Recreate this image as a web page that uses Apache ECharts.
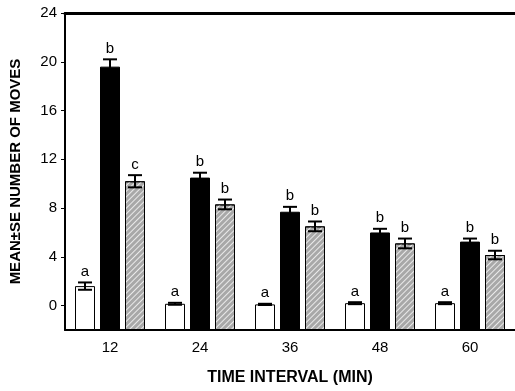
<!DOCTYPE html>
<html>
<head>
<meta charset="utf-8">
<script src="https://cdn.jsdelivr.net/npm/echarts@6/dist/echarts.min.js"></script>
<style>
  html, body { margin: 0; padding: 0; background: #fff; }
  #chart { width: 515px; height: 391px; }
</style>
</head>
<body>
<div id="chart"></div>
<script>
// time intervals (min)
const categories = ["12", "24", "36", "48", "60"];
const yTicks = [0, 4, 8, 12, 16, 20, 24];

// white bars
const openMean = [1.6, 0.15, 0.1, 0.2, 0.2];
const openSE = [0.3, 0.08, 0.05, 0.08, 0.08];
const openLetters = ["a", "a", "a", "a", "a"];

// black bars
const solidMean = [19.6, 10.5, 7.7, 6.0, 5.25];
const solidSE = [0.6, 0.4, 0.4, 0.3, 0.25];
const solidLetters = ["b", "b", "b", "b", "b"];

// hatched bars
const hatchMean = [10.2, 8.3, 6.5, 5.1, 4.15];
const hatchSE = [0.5, 0.4, 0.4, 0.4, 0.35];
const hatchLetters = ["c", "b", "b", "b", "b"];

const BAR_W = 20;
const STEP = 25; // bar width + gap

const chart = echarts.init(document.getElementById("chart"));

const errSeries = (mean, se, letters, idx) => ({
  type: "custom",
  z: 5,
  data: mean.map((m, i) => [i, m, se[i], letters[i]]),
  renderItem: (params, api) => {
    const i = api.value(0);
    const m = api.value(1);
    const s = api.value(2);
    const off = (idx - 1) * STEP;
    const top = api.coord([i, m + s]);
    const bot = api.coord([i, m - s]);
    const x = top[0] + off;
    const cap = 7;
    const st = { stroke: "#000", lineWidth: 2 };
    return {
      type: "group",
      children: [
        { type: "line", shape: { x1: x, y1: top[1], x2: x, y2: bot[1] }, style: st },
        { type: "line", shape: { x1: x - cap, y1: top[1], x2: x + cap, y2: top[1] }, style: st },
        { type: "line", shape: { x1: x - cap, y1: bot[1], x2: x + cap, y2: bot[1] }, style: st },
        {
          type: "text",
          style: {
            text: api.value(3),
            x: x,
            y: top[1] - 3,
            align: "center",
            verticalAlign: "bottom",
            font: "15px 'Liberation Sans', Arial, sans-serif",
            fill: "#000"
          }
        }
      ]
    };
  }
});

const option = {
  backgroundColor: "#fff",
  animation: false,
  grid: {
    left: 61,
    top: 13,
    width: 456,
    height: 325,
    show: false
  },
  xAxis: [
    {
      type: "category",
      data: categories,
      axisLine: { onZero: false, lineStyle: { color: "#000", width: 2 } },
      axisTick: { show: false },
      axisLabel: {
        color: "#000",
        fontSize: 15,
        fontFamily: "Liberation Sans",
        margin: 10
      },
      name: "TIME INTERVAL (MIN)",
      nameLocation: "middle",
      nameGap: 40,
      nameTextStyle: {
        color: "#000",
        fontSize: 16,
        fontWeight: "bold",
        fontFamily: "Liberation Sans"
      }
    },
    {
      type: "category",
      position: "top",
      data: categories,
      axisLine: { onZero: false, lineStyle: { color: "#000", width: 3 } },
      axisTick: { show: false },
      axisLabel: { show: false }
    }
  ],
  yAxis: {
    type: "value",
    min: -2,
    max: 24,
    startValue: -2,
    splitLine: { show: false },
    axisLine: { show: true, lineStyle: { color: "#000", width: 2 } },
    axisTick: {
      show: true,
      length: 4,
      lineStyle: { color: "#000" },
      customValues: yTicks
    },
    axisLabel: {
      color: "#000",
      fontSize: 15,
      fontFamily: "Liberation Sans",
      margin: 8,
      customValues: yTicks
    },
    name: "MEAN\u00b1SE NUMBER OF MOVES",
    nameLocation: "middle",
    nameGap: 42,
    nameTextStyle: {
      color: "#000",
      fontSize: 15,
      fontWeight: "bold",
      fontFamily: "Liberation Sans"
    }
  },
  series: [
    {
      type: "bar",
      data: openMean,
      barWidth: BAR_W,
      barGap: "25%",
      itemStyle: { color: "#fff", borderColor: "#000", borderWidth: 1 }
    },
    {
      type: "bar",
      data: solidMean,
      barWidth: BAR_W,
      barGap: "25%",
      itemStyle: { color: "#000", borderColor: "#000", borderWidth: 1 }
    },
    {
      type: "bar",
      data: hatchMean,
      barWidth: BAR_W,
      barGap: "25%",
      itemStyle: {
        color: "#a8a8a8",
        borderColor: "#000",
        borderWidth: 1,
        decal: {
          symbol: "rect",
          symbolSize: 1,
          color: "rgba(255,255,255,0.75)",
          dashArrayX: [1, 0],
          dashArrayY: [1, 3],
          rotation: -Math.PI / 4
        }
      }
    },
    errSeries(openMean, openSE, openLetters, 0),
    errSeries(solidMean, solidSE, solidLetters, 1),
    errSeries(hatchMean, hatchSE, hatchLetters, 2)
  ]
};

chart.setOption(option);
</script>
</body>
</html>
